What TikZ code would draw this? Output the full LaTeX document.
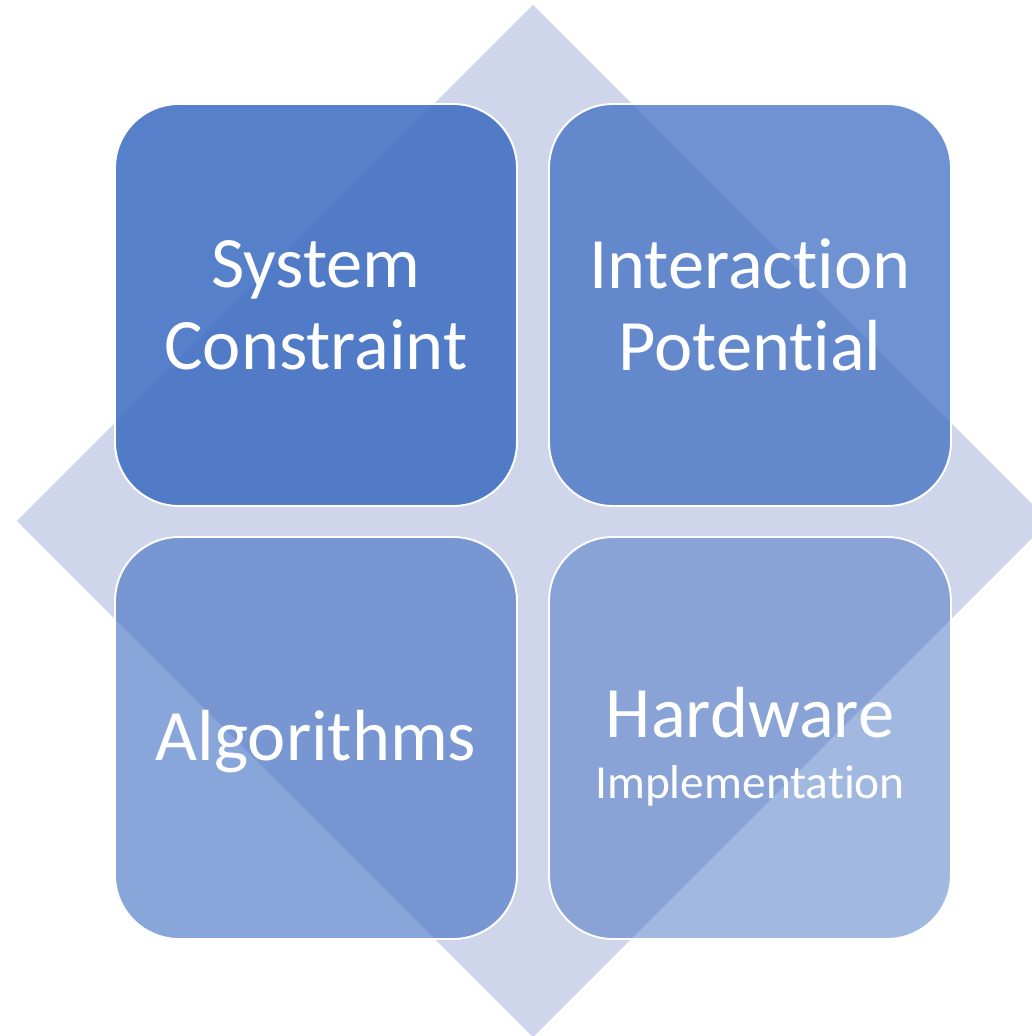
\documentclass[tikz,border=0pt]{standalone}
\usepackage{fontspec}
\setmainfont[Ligatures=NoCommon]{Carlito}
\definecolor{matblue}{HTML}{4472C4}
\definecolor{matback}{HTML}{CFD5EA}
\tikzset{
	cell/.style={rectangle, rounded corners=1.28cm, minimum width=8.04cm, minimum height=8.04cm,
		fill=matblue, draw=white, line width=1.1pt, text=white, text opacity=1, align=center,
		font=\fontsize{41.2}{46.7}\selectfont},
}
\begin{document}
\begin{tikzpicture}[line join=round, line cap=round]
			\clip(-10.66,-10.30) rectangle (9.98,10.42);
			\fill[matback] (0,10.32)--(-10.32,0)--(0,-10.32)--(10.32,0)--cycle;
			\node[cell, fill opacity=0.9] (sys) at (-4.34,4.32) {System\\Constraint};
			\node[cell, fill opacity=0.77] (inter) at (4.34,4.32) {Interaction\\Potential};
			\node[cell, fill opacity=0.63] (algo) at (-4.34,-4.34) {\rule{0pt}{1.15cm}Algorithms};
			\node[cell, fill opacity=0.5] (hard) at (4.34,-4.34) {\rule{0pt}{1.35cm}Hardware\\[-0.42cm]{\fontsize{27}{30}\selectfont Implementation}};
		\end{tikzpicture}
\end{document}
